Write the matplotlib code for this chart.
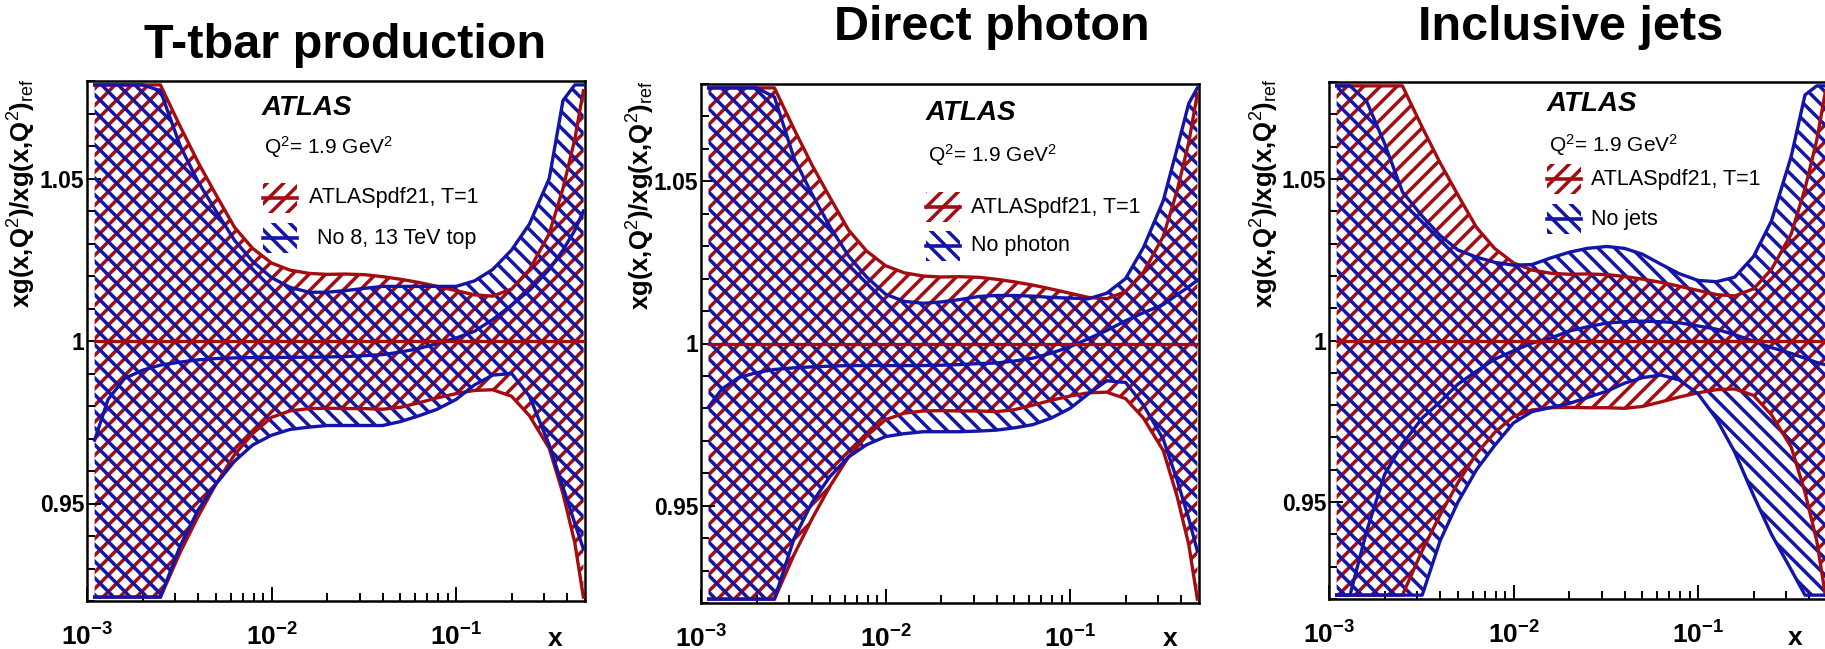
import numpy as np
import matplotlib
matplotlib.use('Agg')
import matplotlib.pyplot as plt
from matplotlib.patches import Rectangle
from matplotlib.lines import Line2D
from matplotlib.ticker import MultipleLocator, LogLocator, NullFormatter, FixedLocator, FixedFormatter

plt.rcParams['font.family'] = ['Liberation Sans', 'DejaVu Sans']
plt.rcParams['mathtext.fontset'] = 'custom'
plt.rcParams['mathtext.rm'] = 'Liberation Sans'
plt.rcParams['mathtext.bf'] = 'Liberation Sans:bold'
plt.rcParams['mathtext.it'] = 'Liberation Sans:italic'
plt.rcParams['hatch.linewidth'] = 2.5

RED = '#a30d12'
BLUE = '#1414a6'

# ---------------- data ----------------
x = [0.0011, 0.0013, 0.0016, 0.002, 0.0025, 0.0032, 0.004, 0.005, 0.0063, 0.0079,
     0.01, 0.0126, 0.016, 0.02, 0.025, 0.032, 0.04, 0.05, 0.063, 0.079,
     0.1, 0.126, 0.158, 0.2, 0.25, 0.32, 0.38, 0.44, 0.49]

# ATLASpdf21, T=1 (reference band, same in all panels)
red_mid = [1.0] * 29
red_hi = [1.10, 1.10, 1.10, 1.10, 1.080, 1.066, 1.055, 1.045, 1.035, 1.0285,
          1.0240, 1.0218, 1.0208, 1.0205, 1.0206, 1.0204, 1.0198, 1.0190, 1.0180, 1.0168,
          1.0155, 1.0142, 1.0138, 1.0160, 1.0220, 1.0330, 1.0470, 1.0620, 1.0770]
red_lo = [0.90, 0.90, 0.90, 0.90, 0.921, 0.935, 0.946, 0.956, 0.965, 0.9715,
          0.9765, 0.9785, 0.9792, 0.9793, 0.9792, 0.9792, 0.9790, 0.9796, 0.9810, 0.9825,
          0.9838, 0.9848, 0.9850, 0.9830, 0.9770, 0.9670, 0.953, 0.938, 0.921]

# Panel 1: No 8, 13 TeV top
top_hi = [1.10, 1.10, 1.10, 1.10, 1.077, 1.060, 1.049, 1.040, 1.031, 1.0245,
          1.0195, 1.0165, 1.0150, 1.0150, 1.0155, 1.0162, 1.0168, 1.0168, 1.0168, 1.0168,
          1.0168, 1.0185, 1.0220, 1.0280, 1.0360, 1.0500, 1.074, 1.10, 1.10]
top_mid = [0.9695, 0.982, 0.9885, 0.991, 0.9926, 0.9935, 0.9942, 0.9946, 0.9948, 0.9949,
           0.9949, 0.9950, 0.9950, 0.9951, 0.9952, 0.9955, 0.9958, 0.9966, 0.9977, 0.9992,
           1.0009, 1.0030, 1.0066, 1.0110, 1.0156, 1.0220, 1.0280, 1.0340, 1.0400]
top_lo = [0.90, 0.90, 0.90, 0.90, 0.920, 0.937, 0.948, 0.956, 0.963, 0.968,
          0.971, 0.9728, 0.9735, 0.9740, 0.9740, 0.9740, 0.9740, 0.9752, 0.9770, 0.9790,
          0.9820, 0.9865, 0.9895, 0.9900, 0.9830, 0.9680, 0.955, 0.944, 0.936]

# Panel 2: No photon
pho_hi = [1.10, 1.10, 1.10, 1.10, 1.076, 1.057, 1.046, 1.036, 1.027, 1.0205,
          1.0152, 1.0130, 1.0124, 1.0128, 1.0135, 1.0145, 1.0148, 1.0148, 1.0146, 1.0142,
          1.0140, 1.0138, 1.0155, 1.0200, 1.0296, 1.0440, 1.060, 1.074, 1.10]
pho_mid = [0.9805, 0.986, 0.9895, 0.991, 0.992, 0.9925, 0.9928, 0.9930, 0.9932, 0.9932,
           0.9932, 0.9932, 0.9932, 0.9933, 0.9935, 0.9938, 0.9940, 0.9946, 0.9955, 0.9970,
           0.9990, 1.0015, 1.0040, 1.0070, 1.0095, 1.0120, 1.0150, 1.0175, 1.0195]
pho_lo = [0.90, 0.90, 0.90, 0.90, 0.921, 0.940, 0.951, 0.959, 0.965, 0.9688,
          0.9713, 0.9722, 0.9728, 0.9728, 0.9728, 0.9730, 0.9733, 0.9740, 0.9750, 0.9770,
          0.9800, 0.9845, 0.9885, 0.9880, 0.9810, 0.9705, 0.958, 0.946, 0.936]

# Panel 3: No jets
jet_hi = [1.10, 1.10, 1.074, 1.061, 1.046, 1.0385, 1.0325, 1.028, 1.0258, 1.0242,
          1.0233, 1.0235, 1.0256, 1.0273, 1.0285, 1.0291, 1.0285, 1.0267, 1.0236, 1.0207,
          1.0186, 1.0182, 1.0196, 1.0260, 1.0370, 1.0570, 1.076, 1.10, 1.10]
jet_mid = [0.90, 0.918, 0.941, 0.9585, 0.968, 0.976, 0.981, 0.9865, 0.9905, 0.9942,
           0.9968, 0.9992, 1.0008, 1.0029, 1.0042, 1.0054, 1.0058, 1.0060, 1.0058, 1.0055,
           1.0045, 1.0035, 1.0018, 0.9998, 0.9978, 0.9960, 0.9945, 0.9932, 0.9925]
jet_lo = [0.90, 0.90, 0.90, 0.90, 0.90, 0.918, 0.938, 0.950, 0.960, 0.9675,
          0.9745, 0.9780, 0.9793, 0.9805, 0.9823, 0.9843, 0.9868, 0.9885, 0.9893, 0.9878,
          0.9835, 0.9757, 0.9655, 0.9520, 0.9400, 0.9290, 0.919, 0.90, 0.90]

titles = ['T-tbar production', 'Direct photon', 'Inclusive jets']
legend_ref = 'ATLASpdf21, T=1'
legend_alt = ['No 8, 13 TeV top', 'No photon', 'No jets']
blue_sets = [(top_lo, top_mid, top_hi), (pho_lo, pho_mid, pho_hi), (jet_lo, jet_mid, jet_hi)]
y_ticks = [0.95, 1.0, 1.05]
y_tick_labels = ['0.95', '1', '1.05']
x_ticks = [1e-3, 1e-2, 1e-1]
x_tick_labels = [r'$\mathbf{10}^{\mathbf{-3}}$', r'$\mathbf{10}^{\mathbf{-2}}$', r'$\mathbf{10}^{\mathbf{-1}}$']

# ---------------- layout (pixels) ----------------
W, H = 1825, 649
axes_px = [(87, 81, 498, 520), (701, 84, 498, 519), (1329, 82, 498, 517)]
title_px = [(345, 58), (992, 40), (1571, 40)]
ylabel_px = [(22, 78), (641, 80), (1265, 78)]
xlabel_px = [(555, 646), (1170, 646), (1795, 645)]
txt_pos = [
    dict(ax=0.351, atlas=0.948, q2=0.873, e1=0.775, e2=0.698, sym=0.353, t1=0.446, t2=0.462),
    dict(ax=0.450, atlas=0.944, q2=0.863, e1=0.763, e2=0.688, sym=0.452, t1=0.543, t2=0.543),
    dict(ax=0.437, atlas=0.957, q2=0.878, e1=0.812, e2=0.735, sym=0.438, t1=0.527, t2=0.527),
]

YLO, YHI = 0.92, 1.08
CLO, CHI = 0.9212, 1.0788

fig = plt.figure(figsize=(W / 100, H / 100), dpi=100)

for i in range(3):
    l, t, w, h = axes_px[i]
    ax = fig.add_axes([l / W, 1 - (t + h) / H, w / W, h / H])
    ax.set_xscale('log')
    ax.set_xlim(1e-3, 0.5)
    ax.set_ylim(YLO, YHI)

    rlo = np.clip(red_lo, CLO, CHI)
    rhi = np.clip(red_hi, CLO, CHI)
    blo, bmid, bhi = blue_sets[i]
    blo = np.clip(blo, CLO, CHI)
    bhi = np.clip(bhi, CLO, CHI)
    bmid = np.clip(bmid, CLO, CHI)

    ax.fill_between(x, rlo, rhi, facecolor='none', edgecolor=RED, hatch='//', linewidth=0, zorder=1)
    ax.fill_between(x, blo, bhi, facecolor='none', edgecolor=BLUE, hatch='\\\\', linewidth=0, zorder=2)
    lw = 2.4
    ax.plot(x, rhi, color=RED, lw=lw, zorder=3, solid_joinstyle='round')
    ax.plot(x, rlo, color=RED, lw=lw, zorder=3, solid_joinstyle='round')
    ax.plot(x, bhi, color=BLUE, lw=lw, zorder=4, solid_joinstyle='round')
    ax.plot(x, blo, color=BLUE, lw=lw, zorder=4, solid_joinstyle='round')
    ax.plot(x, bmid, color=BLUE, lw=lw, zorder=4, solid_joinstyle='round')
    ax.plot(x, red_mid, color=RED, lw=lw, zorder=5)

    # axes styling
    for s in ax.spines.values():
        s.set_linewidth(1.8)
    ax.yaxis.set_major_locator(FixedLocator(y_ticks))
    ax.yaxis.set_major_formatter(FixedFormatter(y_tick_labels))
    ax.yaxis.set_minor_locator(MultipleLocator(0.01))
    ax.xaxis.set_major_locator(FixedLocator(x_ticks))
    ax.xaxis.set_major_formatter(FixedFormatter(x_tick_labels))
    ax.xaxis.set_minor_locator(LogLocator(base=10, subs=np.arange(2, 10)))
    ax.xaxis.set_minor_formatter(NullFormatter())
    ax.tick_params(which='both', direction='in', top=False, right=False, width=1.4)
    ax.tick_params(which='major', length=10)
    ax.tick_params(which='minor', length=5.5)
    ax.tick_params(axis='y', which='major', pad=2, labelsize=16.5)
    ax.tick_params(axis='x', which='major', pad=16, labelsize=19)
    for lab in ax.get_yticklabels():
        lab.set_fontweight('bold')

    p = txt_pos[i]
    ax.text(p['ax'], p['atlas'], 'ATLAS', transform=ax.transAxes, fontsize=20,
            fontweight='bold', fontstyle='italic', ha='left', va='center')
    ax.text(p['ax'] + 0.005, p['q2'], r'Q$^{2}$= 1.9 GeV$^{2}$', transform=ax.transAxes,
            fontsize=15, ha='left', va='center')
    sw, sh = 0.068, 0.058
    for yc, col, hat, lab, tx in [(p['e1'], RED, '//', legend_ref, p['t1']),
                                  (p['e2'], BLUE, '\\\\', legend_alt[i], p['t2'])]:
        ax.add_patch(Rectangle((p['sym'], yc - sh / 2), sw, sh, transform=ax.transAxes,
                               facecolor='none', edgecolor=col, hatch=hat, lw=0, zorder=6))
        ax.add_line(Line2D([p['sym'], p['sym'] + sw], [yc, yc], transform=ax.transAxes,
                           color=col, lw=2.6, zorder=7))
        ax.text(tx, yc, lab, transform=ax.transAxes, fontsize=15.5, ha='left', va='center')

    tx, ty = title_px[i]
    fig.text(tx / W, 1 - ty / H, titles[i], fontsize=35, fontweight='bold',
             ha='center', va='baseline')
    lx, ly = ylabel_px[i]
    fig.text(lx / W, 1 - ly / H, r'xg(x,Q$^{2}$)/xg(x,Q$^{2}$)$_{\mathrm{ref}}$',
             rotation=90, fontsize=18.5, fontweight='bold', ha='center', va='top')
    xx, xy = xlabel_px[i]
    fig.text(xx / W, 1 - xy / H, 'x', fontsize=19, fontweight='bold', ha='center', va='baseline')

fig.savefig('out.png', dpi=100)
